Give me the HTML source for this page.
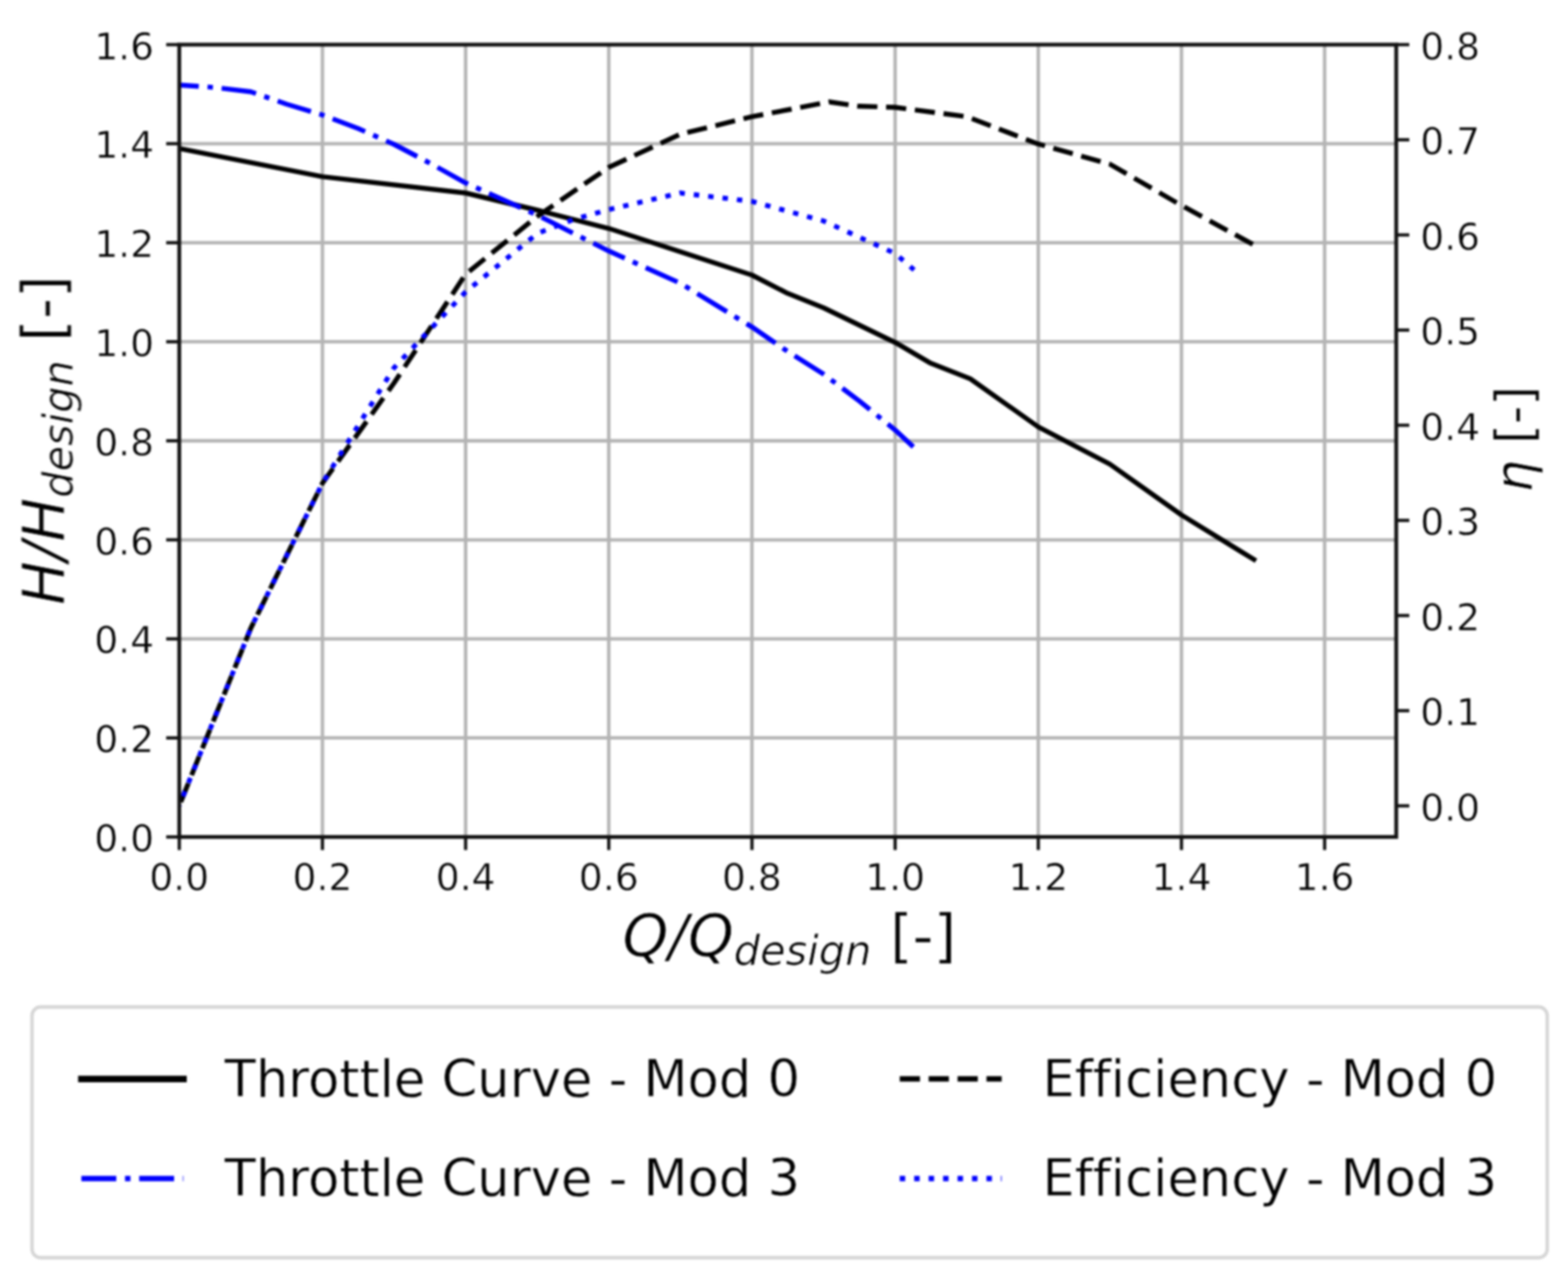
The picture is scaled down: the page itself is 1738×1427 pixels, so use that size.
<!DOCTYPE html>
<html lang="en">
<head>
<meta charset="utf-8">
<title>Pump characteristic curves</title>
<style>
html,body{margin:0;padding:0;background:#fff;}
body{width:1738px;height:1427px;overflow:hidden;}
svg{display:block;}
text{font-family:"DejaVu Sans","Liberation Sans",sans-serif;fill:#000;font-variant-ligatures:none;font-feature-settings:"liga" 0,"clig" 0,"dlig" 0;}
.tk{font-size:41.7px;stroke:#fff;stroke-width:0.5px;}
.ax{font-size:64.5px;stroke:#fff;stroke-width:0.7px;}
.rl{font-size:56.5px;stroke:#fff;stroke-width:0.6px;}
.lg{font-size:56.7px;stroke:#fff;stroke-width:0.5px;}
.it{font-style:italic;}
</style>
</head>
<body>
<svg width="1738" height="1427" viewBox="0 0 1738 1427">
<defs>
<filter id="b" x="-2%" y="-2%" width="104%" height="104%" color-interpolation-filters="sRGB"><feGaussianBlur stdDeviation="0.8"/></filter>
<clipPath id="c"><rect x="198.7" y="49.5" width="1348.9" height="878.5"/></clipPath>
</defs>
<rect x="0" y="0" width="1738" height="1427" fill="#ffffff"/>
<g filter="url(#b)">

<g stroke="#b4b4b4" stroke-width="3.8" fill="none">
<line x1="357.39" y1="49.5" x2="357.39" y2="928.0"/>
<line x1="516.09" y1="49.5" x2="516.09" y2="928.0"/>
<line x1="674.78" y1="49.5" x2="674.78" y2="928.0"/>
<line x1="833.48" y1="49.5" x2="833.48" y2="928.0"/>
<line x1="992.17" y1="49.5" x2="992.17" y2="928.0"/>
<line x1="1150.86" y1="49.5" x2="1150.86" y2="928.0"/>
<line x1="1309.56" y1="49.5" x2="1309.56" y2="928.0"/>
<line x1="1468.25" y1="49.5" x2="1468.25" y2="928.0"/>
<line x1="198.7" y1="818.19" x2="1547.6" y2="818.19"/>
<line x1="198.7" y1="708.38" x2="1547.6" y2="708.38"/>
<line x1="198.7" y1="598.56" x2="1547.6" y2="598.56"/>
<line x1="198.7" y1="488.75" x2="1547.6" y2="488.75"/>
<line x1="198.7" y1="378.94" x2="1547.6" y2="378.94"/>
<line x1="198.7" y1="269.12" x2="1547.6" y2="269.12"/>
<line x1="198.7" y1="159.31" x2="1547.6" y2="159.31"/>
</g>
<g clip-path="url(#c)" fill="none" stroke-linejoin="round">
<path d="M198.7,164.7 L357.4,195.9 L516.1,214.0 L595.4,233.0 L674.8,253.3 L833.5,305.0 L873.1,325.3 L912.8,341.2 L992.2,379.7 L1031.8,402.8 L1075.5,420.0 L1150.9,473.4 L1230.2,514.6 L1309.6,571.0 L1389.9,620.4" stroke="#000" stroke-width="5.4" stroke-linecap="square"/>
<path d="M198.7,94.3 L238.4,97.0 L278.0,101.7 L317.7,115.5 L357.4,127.5 L397.1,142.5 L436.7,160.0 L476.4,180.8 L516.1,202.8 L595.4,238.5 L674.8,278.3 L754.1,314.0 L833.5,362.6 L873.1,389.7 L912.8,414.8 L952.5,444.6 L992.2,476.8 L1012.4,495.5" stroke="#0000ff" stroke-width="5.4" stroke-dasharray="38.7 9.67 6.04 9.67" stroke-dashoffset="17"/>
<path d="M198.7,893.3 L278.0,696.5 L357.4,535.8 L436.7,424.8 L516.1,304.0 L595.4,240.0 L674.8,185.5 L754.1,148.8 L833.5,129.4 L919.2,113.0 L952.5,117.8 L992.2,119.0 L1071.5,129.3 L1150.9,159.7 L1230.2,182.0 L1309.6,227.8 L1388.9,271.0" stroke="#000" stroke-width="5.4" stroke-dasharray="22.4 9.65" stroke-dashoffset="27.6"/>
<path d="M198.7,893.3 L278.0,696.5 L357.4,535.8 L436.7,407.8 L516.1,323.6 L595.4,259.0 L635.1,243.5 L674.8,232.4 L754.1,214.0 L833.5,223.3 L912.8,245.0 L992.2,281.0 L1013.2,299.3" stroke="#0000ff" stroke-width="5.4" stroke-dasharray="6.04 9.98" stroke-dashoffset="4.9"/>
</g>
<g stroke="#111" stroke-width="3.6" fill="none">
<line x1="198.70" y1="928.0" x2="198.70" y2="942.5"/>
<line x1="357.39" y1="928.0" x2="357.39" y2="942.5"/>
<line x1="516.09" y1="928.0" x2="516.09" y2="942.5"/>
<line x1="674.78" y1="928.0" x2="674.78" y2="942.5"/>
<line x1="833.48" y1="928.0" x2="833.48" y2="942.5"/>
<line x1="992.17" y1="928.0" x2="992.17" y2="942.5"/>
<line x1="1150.86" y1="928.0" x2="1150.86" y2="942.5"/>
<line x1="1309.56" y1="928.0" x2="1309.56" y2="942.5"/>
<line x1="1468.25" y1="928.0" x2="1468.25" y2="942.5"/>
<line x1="184.2" y1="928.00" x2="198.7" y2="928.00"/>
<line x1="184.2" y1="818.19" x2="198.7" y2="818.19"/>
<line x1="184.2" y1="708.38" x2="198.7" y2="708.38"/>
<line x1="184.2" y1="598.56" x2="198.7" y2="598.56"/>
<line x1="184.2" y1="488.75" x2="198.7" y2="488.75"/>
<line x1="184.2" y1="378.94" x2="198.7" y2="378.94"/>
<line x1="184.2" y1="269.12" x2="198.7" y2="269.12"/>
<line x1="184.2" y1="159.31" x2="198.7" y2="159.31"/>
<line x1="184.2" y1="49.50" x2="198.7" y2="49.50"/>
<line x1="1547.6" y1="893.50" x2="1562.1" y2="893.50"/>
<line x1="1547.6" y1="788.00" x2="1562.1" y2="788.00"/>
<line x1="1547.6" y1="682.50" x2="1562.1" y2="682.50"/>
<line x1="1547.6" y1="577.00" x2="1562.1" y2="577.00"/>
<line x1="1547.6" y1="471.50" x2="1562.1" y2="471.50"/>
<line x1="1547.6" y1="366.00" x2="1562.1" y2="366.00"/>
<line x1="1547.6" y1="260.50" x2="1562.1" y2="260.50"/>
<line x1="1547.6" y1="155.00" x2="1562.1" y2="155.00"/>
<line x1="1547.6" y1="49.50" x2="1562.1" y2="49.50"/>
<rect x="198.7" y="49.5" width="1348.9" height="878.5" stroke-width="4.2"/>
</g>
<g class="tk">
<text x="198.70" y="986.5" text-anchor="middle">0.0</text>
<text x="357.39" y="986.5" text-anchor="middle">0.2</text>
<text x="516.09" y="986.5" text-anchor="middle">0.4</text>
<text x="674.78" y="986.5" text-anchor="middle">0.6</text>
<text x="833.48" y="986.5" text-anchor="middle">0.8</text>
<text x="992.17" y="986.5" text-anchor="middle">1.0</text>
<text x="1150.86" y="986.5" text-anchor="middle">1.2</text>
<text x="1309.56" y="986.5" text-anchor="middle">1.4</text>
<text x="1468.25" y="986.5" text-anchor="middle">1.6</text>
<text x="170.8" y="944.00" text-anchor="end">0.0</text>
<text x="170.8" y="834.19" text-anchor="end">0.2</text>
<text x="170.8" y="724.38" text-anchor="end">0.4</text>
<text x="170.8" y="614.56" text-anchor="end">0.6</text>
<text x="170.8" y="504.75" text-anchor="end">0.8</text>
<text x="170.8" y="394.94" text-anchor="end">1.0</text>
<text x="170.8" y="285.12" text-anchor="end">1.2</text>
<text x="170.8" y="175.31" text-anchor="end">1.4</text>
<text x="170.8" y="65.50" text-anchor="end">1.6</text>
<text x="1574.2" y="909.80" text-anchor="start">0.0</text>
<text x="1574.2" y="804.30" text-anchor="start">0.1</text>
<text x="1574.2" y="698.80" text-anchor="start">0.2</text>
<text x="1574.2" y="593.30" text-anchor="start">0.3</text>
<text x="1574.2" y="487.80" text-anchor="start">0.4</text>
<text x="1574.2" y="382.30" text-anchor="start">0.5</text>
<text x="1574.2" y="276.80" text-anchor="start">0.6</text>
<text x="1574.2" y="171.30" text-anchor="start">0.7</text>
<text x="1574.2" y="65.80" text-anchor="start">0.8</text>
</g>
<text class="ax" x="875" y="1060" text-anchor="middle"><tspan class="it">Q/Q</tspan><tspan class="it" font-size="46" dy="9.5">design</tspan><tspan dy="-9.5"> [-]</tspan></text>
<text class="ax" transform="translate(70.5,488) rotate(-90)" text-anchor="middle"><tspan class="it">H/H</tspan><tspan class="it" font-size="46" dy="9.5">design</tspan><tspan dy="-9.5"> [-]</tspan></text>
<text class="rl" transform="translate(1698,487) rotate(-90)" text-anchor="middle"><tspan class="it">η</tspan><tspan> [-]</tspan></text>
<rect x="35.5" y="1116.5" width="1679.5" height="278" rx="9.5" ry="9.5" fill="#fff" stroke="#d6d6d6" stroke-width="3.8"/>
<g fill="none" stroke-width="6">
<line x1="90.2" y1="1196.3" x2="203.4" y2="1196.3" stroke="#000" stroke-width="7.2" stroke-linecap="square"/>
<line x1="90.2" y1="1306.8" x2="203.3" y2="1306.8" stroke="#0000ff" stroke-dasharray="38.7 9.67 6.04 9.67"/>
<line x1="997.3" y1="1196.3" x2="1110.3" y2="1196.3" stroke="#000" stroke-dasharray="22.4 9.65"/>
<line x1="997.3" y1="1306.8" x2="1110.3" y2="1306.8" stroke="#0000ff" stroke-dasharray="6.04 9.98"/>
</g>
<g class="lg">
<text x="249" y="1215.7">Throttle Curve - Mod 0</text>
<text x="249" y="1326.2">Throttle Curve - Mod 3</text>
<text x="1155.5" y="1215.7">Efficiency - Mod 0</text>
<text x="1155.5" y="1326.2">Efficiency - Mod 3</text>
</g>
</g>
</svg>
</body>
</html>
